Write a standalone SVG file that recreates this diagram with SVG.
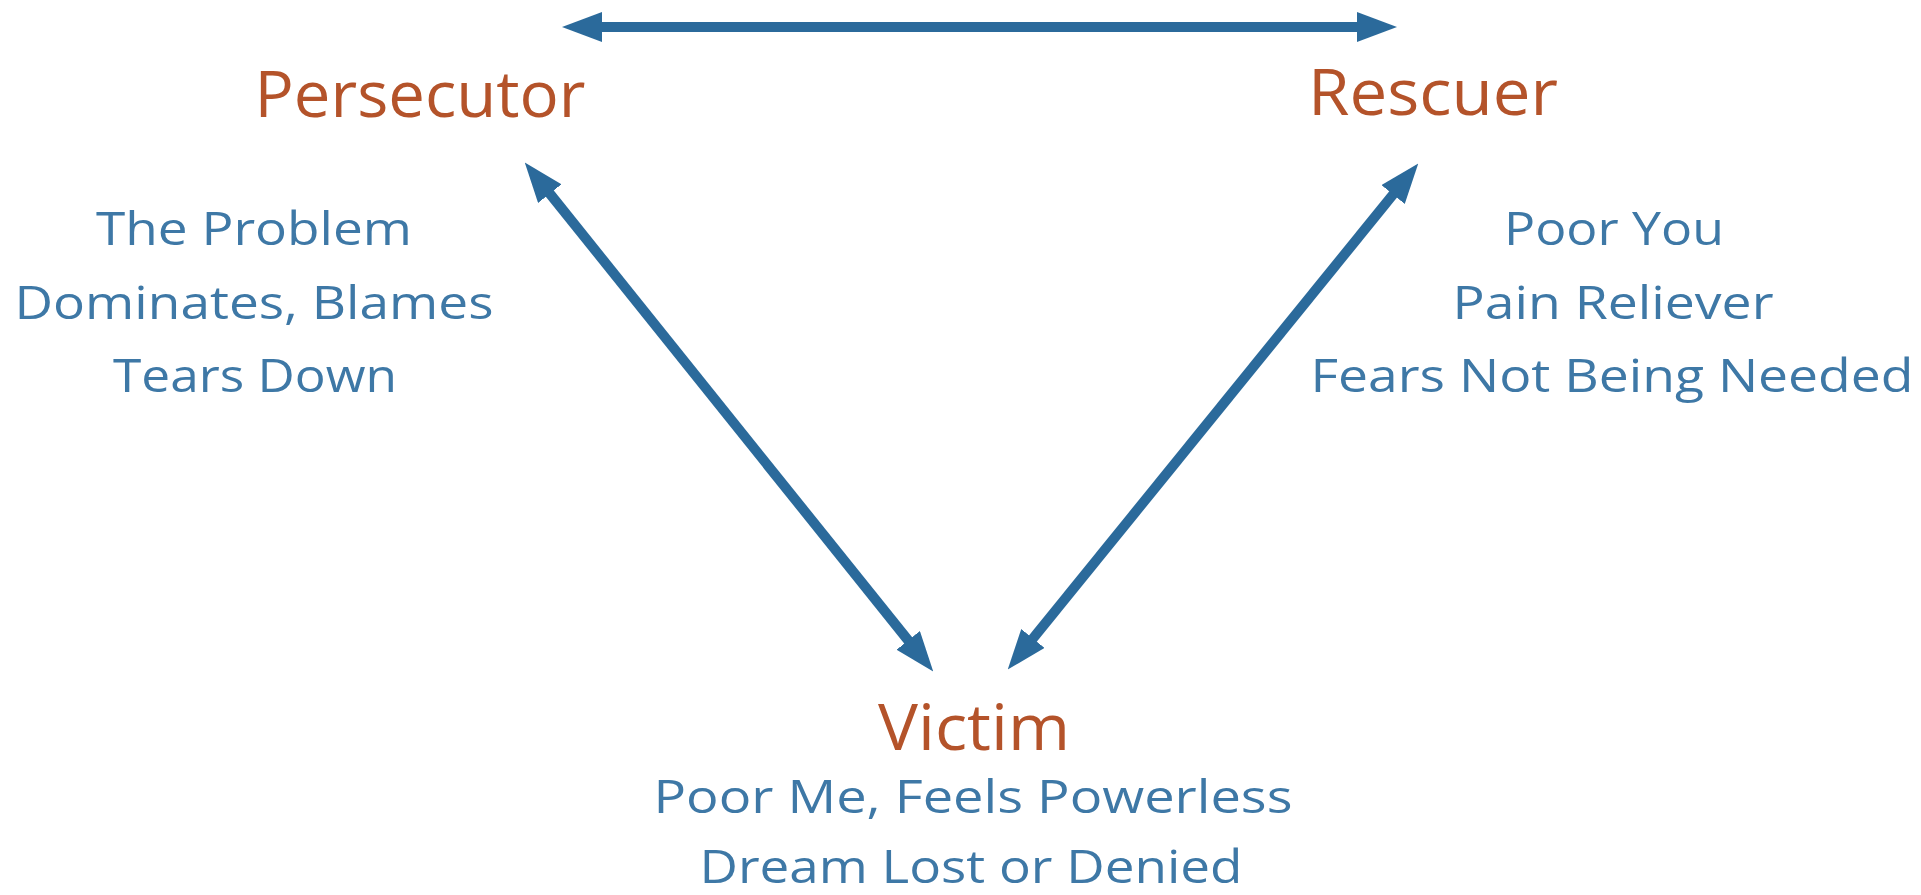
<svg xmlns="http://www.w3.org/2000/svg" width="1921" height="895" viewBox="0 0 1921 895">
<style>
.role{font-family:"Open Sans","Liberation Sans",sans-serif;font-size:64px;fill:#B4532A;text-anchor:middle}
.desc{font-family:"Open Sans","Liberation Sans",sans-serif;font-size:45px;fill:#3E78A6;text-anchor:middle}
.conn{stroke:#2B6A9B;stroke-width:10;fill:none;marker-start:url(#ah);marker-end:url(#ah)}
</style>
<defs>
<marker id="ah" markerUnits="userSpaceOnUse" viewBox="0 0 40 30" markerWidth="40" markerHeight="30" refX="4" refY="15" orient="auto-start-reverse">
<path d="M0,0 L40,15 L0,30 z" fill="#2B6A9B"/>
</marker>
</defs>
<rect width="1921" height="895" fill="#FFFFFF"/>
<g id="connectors">
<line class="conn" x1="598" y1="27" x2="1361" y2="27"/>
<line class="conn" x1="547.3" y1="190.5" x2="910.7" y2="643.5"/>
<line class="conn" x1="1395.6" y1="191.4" x2="1030.4" y2="641.6"/>
</g>
<g id="persecutor">
<text class="role" x="420" y="117" textLength="331" lengthAdjust="spacingAndGlyphs">Persecutor</text>
<text class="desc" x="254" y="245" textLength="316" lengthAdjust="spacingAndGlyphs">The Problem</text>
<text class="desc" x="254" y="319" textLength="479" lengthAdjust="spacingAndGlyphs">Dominates, Blames</text>
<text class="desc" x="255" y="392" textLength="284" lengthAdjust="spacingAndGlyphs">Tears Down</text>
</g>
<g id="rescuer">
<text class="role" x="1433" y="115" textLength="250" lengthAdjust="spacingAndGlyphs">Rescuer</text>
<text class="desc" x="1614" y="245" textLength="220" lengthAdjust="spacingAndGlyphs">Poor You</text>
<text class="desc" x="1613" y="319" textLength="321" lengthAdjust="spacingAndGlyphs">Pain Reliever</text>
<text class="desc" x="1612" y="392" textLength="603" lengthAdjust="spacingAndGlyphs">Fears Not Being Needed</text>
</g>
<g id="victim">
<text class="role" x="974" y="750" textLength="192" lengthAdjust="spacingAndGlyphs">Victim</text>
<text class="desc" x="973" y="813" textLength="639" lengthAdjust="spacingAndGlyphs">Poor Me, Feels Powerless</text>
<text class="desc" x="971" y="883" textLength="543" lengthAdjust="spacingAndGlyphs">Dream Lost or Denied</text>
</g>
</svg>
